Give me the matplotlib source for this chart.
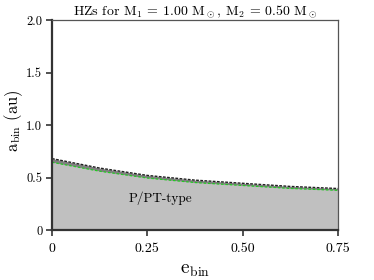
import numpy as np
import matplotlib
matplotlib.use("Agg")
import matplotlib.pyplot as plt

plt.rcParams['mathtext.fontset'] = 'cm'
plt.rcParams['font.family'] = 'serif'
plt.rcParams['font.serif'] = ['cmr10', 'DejaVu Serif']
plt.rcParams['axes.formatter.use_mathtext'] = True

# binary eccentricity and the stability limits
e_bin = [0.0, 0.125, 0.25, 0.375, 0.5, 0.625, 0.75]
a_upper = [0.68, 0.59, 0.52, 0.475, 0.445, 0.415, 0.395]
a_lower = [0.645, 0.56, 0.495, 0.452, 0.424, 0.396, 0.378]

x_ticks = [0, 0.25, 0.50, 0.75]
x_ticklabels = ['0', '0.25', '0.50', '0.75']
y_ticks = [0, 0.5, 1.0, 1.5, 2.0]
y_ticklabels = ['0', '0.5', '1.0', '1.5', '2.0']

fig = plt.figure(figsize=(3.74, 2.8), dpi=100)
ax = fig.add_axes([52/374, 50/280, 286/374, 210/280])

ax.fill_between(e_bin, 0, a_lower, color='#c0c0c0', lw=0)
ax.fill_between(e_bin, a_lower, a_upper, color='#808080', lw=0)
ax.plot(e_bin, a_upper, color='#222222', lw=1.0, ls='--', dashes=(2, 1))
ax.plot(e_bin, a_lower, color='#22cc22', lw=0.9, ls='--', dashes=(2, 1.5))

ax.text(0.2, 0.30, 'P/PT-type', fontsize=9.5, va='center', ha='left')

ax.set_xlim(0, 0.75)
ax.set_ylim(0, 2.0)
ax.set_xticks(x_ticks)
ax.set_xticklabels(x_ticklabels)
ax.set_yticks(y_ticks)
ax.set_yticklabels(y_ticklabels)
ax.tick_params(direction='out', length=4, width=1.2, color='#333333')
ax.tick_params(axis='x', labelsize=10, pad=5)
ax.tick_params(axis='y', labelsize=9, pad=3)

for side in ['left', 'bottom']:
    ax.spines[side].set_linewidth(1.6)
    ax.spines[side].set_color('#333333')
for side in ['top', 'right']:
    ax.spines[side].set_linewidth(0.9)
    ax.spines[side].set_color('#555555')

ax.set_xlabel(r'$\mathrm{e_{bin}}$', fontsize=14, labelpad=5)
ax.set_ylabel(r'$\mathrm{a_{bin}}$ (au)', fontsize=12)
ax.yaxis.set_label_coords(-0.095, 0.52)
ax.set_title(r'HZs for $\mathrm{M_1}$ = 1.00 $\mathrm{M_\odot}$, $\mathrm{M_2}$ = 0.50 $\mathrm{M_\odot}$',
             fontsize=10, pad=3)

fig.savefig('out.png', dpi=100)
